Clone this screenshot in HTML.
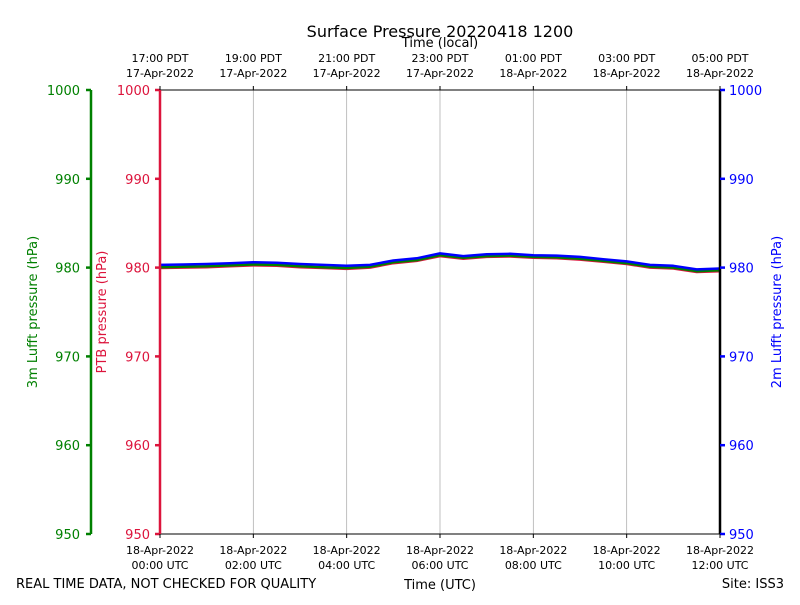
<!DOCTYPE html>
<html><head><meta charset="utf-8"><style>
body{margin:0;background:#fff;}
svg text{font-family:"DejaVu Sans","Liberation Sans",sans-serif;}
</style></head><body>
<svg id="chart" width="800" height="600" viewBox="0 0 800 600" xmlns="http://www.w3.org/2000/svg">
<rect width="800" height="600" fill="#fff"/>
<g id="grid"></g>
<g id="series"></g>
<g id="axes"></g>
</svg>
<script>
const hours = [0,0.5,1,1.5,2,2.5,3,3.5,4,4.5,5,5.5,6,6.5,7,7.5,8,8.5,9,9.5,10,10.5,11,11.5,12];
const blueVals  = [980.3,980.35,980.4,980.5,980.6,980.55,980.4,980.3,980.2,980.3,980.8,981.05,981.6,981.3,981.5,981.55,981.4,981.35,981.2,980.95,980.7,980.3,980.2,979.8,979.9];
const greenVals = [980.05,980.1,980.15,980.25,980.35,980.3,980.15,980.05,979.95,980.1,980.6,980.85,981.4,981.1,981.3,981.35,981.2,981.15,981.0,980.75,980.5,980.1,980.0,979.6,979.7];
const redVals   = [979.95,980.0,980.05,980.15,980.25,980.2,980.05,979.95,979.85,980.0,980.5,980.75,981.3,981.0,981.2,981.25,981.1,981.05,980.9,980.65,980.4,980.0,979.9,979.5,979.6];
const yTicks = [950,960,970,980,990,1000];
const utcTicks = [0,2,4,6,8,10,12];
const utcLabels = ["00:00 UTC","02:00 UTC","04:00 UTC","06:00 UTC","08:00 UTC","10:00 UTC","12:00 UTC"];
const utcDates = ["18-Apr-2022","18-Apr-2022","18-Apr-2022","18-Apr-2022","18-Apr-2022","18-Apr-2022","18-Apr-2022"];
const localLabels = ["17:00 PDT","19:00 PDT","21:00 PDT","23:00 PDT","01:00 PDT","03:00 PDT","05:00 PDT"];
const localDates = ["17-Apr-2022","17-Apr-2022","17-Apr-2022","17-Apr-2022","18-Apr-2022","18-Apr-2022","18-Apr-2022"];

const X0=160,X1=720,Y0=534,Y1=90;
const xs=h=>X0+(h-0)/12*(X1-X0);
const ys=p=>Y0-(p-950)/50*(Y0-Y1);
const NS="http://www.w3.org/2000/svg";
function mk(parent,tag,attrs,text){const e=document.createElementNS(NS,tag);for(const k in attrs)e.setAttribute(k,attrs[k]);if(text!==undefined)e.textContent=text;document.getElementById(parent).appendChild(e);return e;}

// grid
utcTicks.forEach(h=>{
  const l=mk('grid','line',{x1:xs(h),x2:xs(h),y1:Y1,y2:Y0,stroke:'#b0b0b0','stroke-width':0.8});
  
  
});

// series
function drawSeries(vals,color,name){
  const pts=hours.map((h,i)=>xs(h).toFixed(1)+','+ys(vals[i]).toFixed(1)).join(' ');
  const p=mk('series','polyline',{points:pts,fill:'none',stroke:color,'stroke-width':2.5,'stroke-linejoin':'round'});
  
  
}
drawSeries(redVals,'#dc143c','ptb-pressure-line');
drawSeries(greenVals,'#008000','lufft-3m-line');
drawSeries(blueVals,'#0000ff','lufft-2m-line');

// frame
let f=mk('axes','line',{x1:X0,x2:X1,y1:Y1,y2:Y1,stroke:'#000','stroke-width':1});


f=mk('axes','line',{x1:X0,x2:X1,y1:Y0,y2:Y0,stroke:'#000','stroke-width':1});


f=mk('axes','line',{x1:X1,x2:X1,y1:Y1,y2:Y0,stroke:'#000','stroke-width':2.5});


f=mk('axes','line',{x1:X0,x2:X0,y1:Y1,y2:Y0,stroke:'#dc143c','stroke-width':2.5});


f=mk('axes','line',{x1:91,x2:91,y1:Y1,y2:Y0,stroke:'#008000','stroke-width':2.5});



// y ticks
yTicks.forEach(v=>{
  const y=ys(v);
  let t=mk('axes','line',{x1:86,x2:91,y1:y,y2:y,stroke:'#008000','stroke-width':2.5});
  
  
  t=mk('axes','text',{x:80,y:y+5,'text-anchor':'end','font-size':13,fill:'#008000'},v);
  
  
  t=mk('axes','line',{x1:155,x2:160,y1:y,y2:y,stroke:'#dc143c','stroke-width':2.5});
  
  
  t=mk('axes','text',{x:150,y:y+5,'text-anchor':'end','font-size':13,fill:'#dc143c'},v);
  
  
  t=mk('axes','line',{x1:720,x2:725,y1:y,y2:y,stroke:'#0000ff','stroke-width':2.5});
  
  
  t=mk('axes','text',{x:729,y:y+5,'text-anchor':'start','font-size':13,fill:'#0000ff'},v);
  
  
});

// x ticks
utcTicks.forEach((h,i)=>{
  const x=xs(h);
  let t=mk('axes','line',{x1:x,x2:x,y1:Y0,y2:Y0+4,stroke:'#000','stroke-width':1});
  
  
  t=mk('axes','text',{x:x,y:554,'text-anchor':'middle','font-size':11,fill:'#000'},utcDates[i]);
  
  
  t=mk('axes','text',{x:x,y:569,'text-anchor':'middle','font-size':11,fill:'#000'},utcLabels[i]);
  
  
  t=mk('axes','line',{x1:x,x2:x,y1:Y1-4,y2:Y1,stroke:'#000','stroke-width':1});
  
  
  t=mk('axes','text',{x:x,y:62,'text-anchor':'middle','font-size':11,fill:'#000'},localLabels[i]);
  
  
  t=mk('axes','text',{x:x,y:77,'text-anchor':'middle','font-size':11,fill:'#000'},localDates[i]);
  
  
});
</script>
<svg style="position:absolute;left:0;top:0" width="800" height="600" xmlns="http://www.w3.org/2000/svg">
<text x="440" y="37" text-anchor="middle" font-size="16" fill="#000">Surface Pressure 20220418 1200</text>
<text x="440" y="47" text-anchor="middle" font-size="13" fill="#000">Time (local)</text>
<text x="440" y="589" text-anchor="middle" font-size="13" fill="#000">Time (UTC)</text>
<text x="16" y="588" font-size="13" fill="#000">REAL TIME DATA, NOT CHECKED FOR QUALITY</text>
<text x="784" y="588" text-anchor="end" font-size="13" fill="#000">Site: ISS3</text>
<text transform="translate(37,312) rotate(-90)" text-anchor="middle" font-size="13" fill="#008000">3m Lufft pressure (hPa)</text>
<text transform="translate(106,312) rotate(-90)" text-anchor="middle" font-size="13" fill="#dc143c">PTB pressure (hPa)</text>
<text transform="translate(781,312) rotate(-90)" text-anchor="middle" font-size="13" fill="#0000ff">2m Lufft pressure (hPa)</text>
</svg>
</body></html>
